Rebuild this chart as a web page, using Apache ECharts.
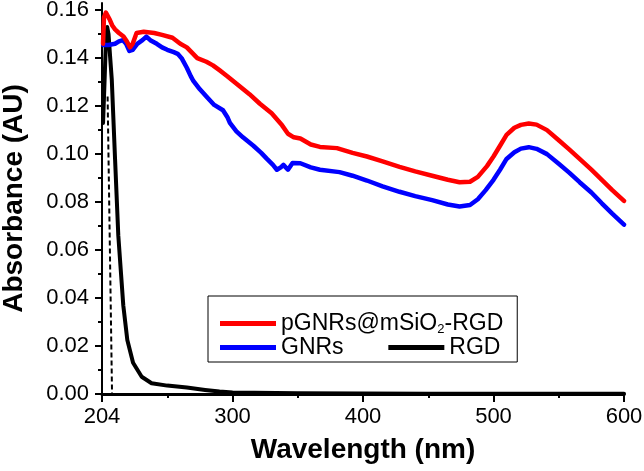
<!DOCTYPE html>
<html>
<head>
<meta charset="utf-8">
<script src="https://cdn.jsdelivr.net/npm/echarts@6/dist/echarts.min.js"></script>
<style>
html,body{margin:0;padding:0;background:#fff;}
#chart{width:644px;height:471px;}
</style>
</head>
<body>
<div id="chart"></div>
<script>
// ---- data ----
const redName = 'pGNRs@mSiO2-RGD';
const blueName = 'GNRs';
const blackName = 'RGD';

const redWl  = [200.8,201.5,203,204.5,206,208,210,213,216.5,219,221.5,223.5,226.5,232,240,246,254,260,265,273,280,285,290,296,305,313,321,330,338,342.5,347,352,360,367,380,392,403,415,428,440,453,465,474,482,488,495,500,505,510,516,521,527,533,541,550,558,566,575,583,591,600];
const redAbs = [0.146,0.157,0.159,0.1595,0.156,0.1535,0.152,0.1505,0.149,0.147,0.1445,0.146,0.1505,0.151,0.1505,0.1497,0.1485,0.146,0.1445,0.140,0.1385,0.137,0.135,0.1325,0.1285,0.125,0.121,0.117,0.112,0.1085,0.107,0.1065,0.104,0.103,0.1025,0.1005,0.099,0.097,0.0947,0.0928,0.091,0.0893,0.0883,0.0885,0.0905,0.095,0.099,0.1035,0.108,0.111,0.1122,0.1128,0.1123,0.110,0.1058,0.102,0.098,0.0935,0.0893,0.085,0.0805];

const blueWl  = [200.8,205,210,213,216,218.5,221,223.5,227,231,234,237,242,246,250,255,258,261,265,268,270,275,280,286,292.7,296,298,303,308,316,322,326.4,331,334,337,339,342.5,344,346,352,360,367,382,392,403,415,428,440,453,465,474,482,488,494,500,505,510,516,521,527,533,541,550,558,566,575,583,591,600];
const blueAbs = [0.1455,0.1455,0.146,0.147,0.1475,0.146,0.143,0.1435,0.146,0.1475,0.149,0.1475,0.146,0.1445,0.1435,0.1425,0.1418,0.140,0.136,0.1325,0.1305,0.127,0.124,0.1205,0.1183,0.1155,0.113,0.1095,0.107,0.1035,0.1005,0.098,0.0955,0.0935,0.0945,0.0955,0.0935,0.0935,0.0963,0.0962,0.0945,0.0935,0.0925,0.091,0.089,0.0866,0.0843,0.0825,0.0808,0.079,0.0782,0.0788,0.0812,0.085,0.0893,0.0935,0.098,0.1008,0.1023,0.1029,0.1022,0.100,0.096,0.0923,0.0883,0.084,0.0795,0.0752,0.0706];

const blackWl  = [200.8,201.8,203,204,205,206.3,207.5,210,212.5,214.6,216.3,219.4,223.8,230.4,238,250,265,279,290,300,350,450,600];
const blackAbs = [0.113,0.128,0.147,0.153,0.150,0.140,0.131,0.098,0.066,0.050,0.037,0.0225,0.013,0.0072,0.0045,0.0035,0.0027,0.0017,0.001,0.0006,0.0003,0.0001,0.0001];

const dropWl  = [204.3,207.7];
const dropAbs = [0.124,0.0];

const xTicks = [200,300,400,500,600];
const xTickLabels = ['204','300','400','500','600'];
const xMinorTicks = [250,350,450,550];
const yTicks = [0,0.02,0.04,0.06,0.08,0.10,0.12,0.14,0.16];
const yMinorTicks = [0.01,0.03,0.05,0.07,0.09,0.11,0.13,0.15];

// ---- chart ----
const pairs = (xs, ys) => xs.map((x, i) => [x, ys[i]]);
const FONT = '"Liberation Sans", Arial, sans-serif';
const X_MIN = 200, X_MAX = 600, Y_MIN = 0, Y_MAX = 0.163;
const NBSP = '\u00a0';

const chart = echarts.init(document.getElementById('chart'), null, {renderer: 'canvas'});

const lineSeries = (name, data, color, width, z) => ({
  name, type: 'line', data, showSymbol: false, symbol: 'none',
  lineStyle: {color, width, cap: 'round', join: 'round'}, itemStyle: {color},
  z, silent: true, animation: false
});

chart.setOption({
  animation: false,
  backgroundColor: '#fff',
  grid: {left: 102, right: 20, top: 3, bottom: 77, containLabel: false, outerBoundsMode: 'none'},
  legend: {
    data: [redName, blueName, blackName],
    left: 208, top: 296, width: 300,
    orient: 'horizontal',
    padding: [16, 14, 3, 12],
    itemGap: 0,
    itemWidth: 56, itemHeight: 5,
    icon: 'rect',
    borderColor: '#000', borderWidth: 1, backgroundColor: '#fff',
    selectedMode: false,
    textStyle: {
      fontFamily: FONT, fontSize: 23, color: '#000',
      rich: {
        a: {fontFamily: FONT, fontSize: 23, color: '#000'},
        s: {fontFamily: FONT, fontSize: 13, color: '#000', verticalAlign: 'bottom', padding: [12, 0, 0, 0]}
      }
    },
    formatter: (n) => {
      if (n === redName) return '{a|pGNRs@mSiO}{s|2}{a|-RGD}';
      if (n === blueName) return n + NBSP.repeat(7);
      return n;
    }
  },
  xAxis: [{
    type: 'value', min: X_MIN, max: X_MAX,
    name: 'Wavelength (nm)', nameLocation: 'middle', nameGap: 42,
    nameTextStyle: {fontFamily: FONT, fontSize: 28, fontWeight: 'bold', color: '#000'},
    axisLine: {show: true, onZero: false, lineStyle: {color: '#000', width: 3}},
    axisTick: {show: true, inside: false, length: 8, lineStyle: {color: '#000', width: 2}, customValues: xTicks},
    axisLabel: {
      show: true, margin: 12, fontFamily: FONT, fontSize: 22, color: '#000',
      customValues: xTicks,
      formatter: (v) => { const i = xTicks.indexOf(v); return i >= 0 ? xTickLabels[i] : ''; }
    },
    splitLine: {show: false}
  }, {
    type: 'value', min: X_MIN, max: X_MAX, position: 'bottom',
    axisLine: {show: false},
    axisTick: {show: true, inside: false, length: 4, lineStyle: {color: '#000', width: 2}, customValues: xMinorTicks},
    axisLabel: {show: false},
    splitLine: {show: false}
  }],
  yAxis: [{
    type: 'value', min: Y_MIN, max: Y_MAX,
    name: 'Absorbance (AU)', nameLocation: 'middle', nameGap: 74,
    nameTextStyle: {fontFamily: FONT, fontSize: 28, fontWeight: 'bold', color: '#000'},
    axisLine: {show: true, onZero: false, lineStyle: {color: '#000', width: 2}},
    axisTick: {show: true, inside: false, length: 7, lineStyle: {color: '#000', width: 2}, customValues: yTicks},
    axisLabel: {
      show: true, margin: 13, fontFamily: FONT, fontSize: 22, color: '#000',
      customValues: yTicks,
      formatter: (v) => v.toFixed(2)
    },
    splitLine: {show: false}
  }, {
    type: 'value', min: Y_MIN, max: Y_MAX, position: 'left',
    axisLine: {show: false},
    axisTick: {show: true, inside: false, length: 4, lineStyle: {color: '#000', width: 2}, customValues: yMinorTicks},
    axisLabel: {show: false},
    splitLine: {show: false}
  }],
  series: [
    lineSeries(blackName, pairs(blackWl, blackAbs), '#000000', 4, 2),
    {
      name: 'drop', type: 'line', data: pairs(dropWl, dropAbs), showSymbol: false, symbol: 'none',
      lineStyle: {color: '#000', width: 2, type: [5, 3]}, z: 3, silent: true
    },
    lineSeries(blueName, pairs(blueWl, blueAbs), '#0000ff', 4.5, 4),
    lineSeries(redName, pairs(redWl, redAbs), '#ff0000', 4.5, 5)
  ]
});
</script>
</body>
</html>
